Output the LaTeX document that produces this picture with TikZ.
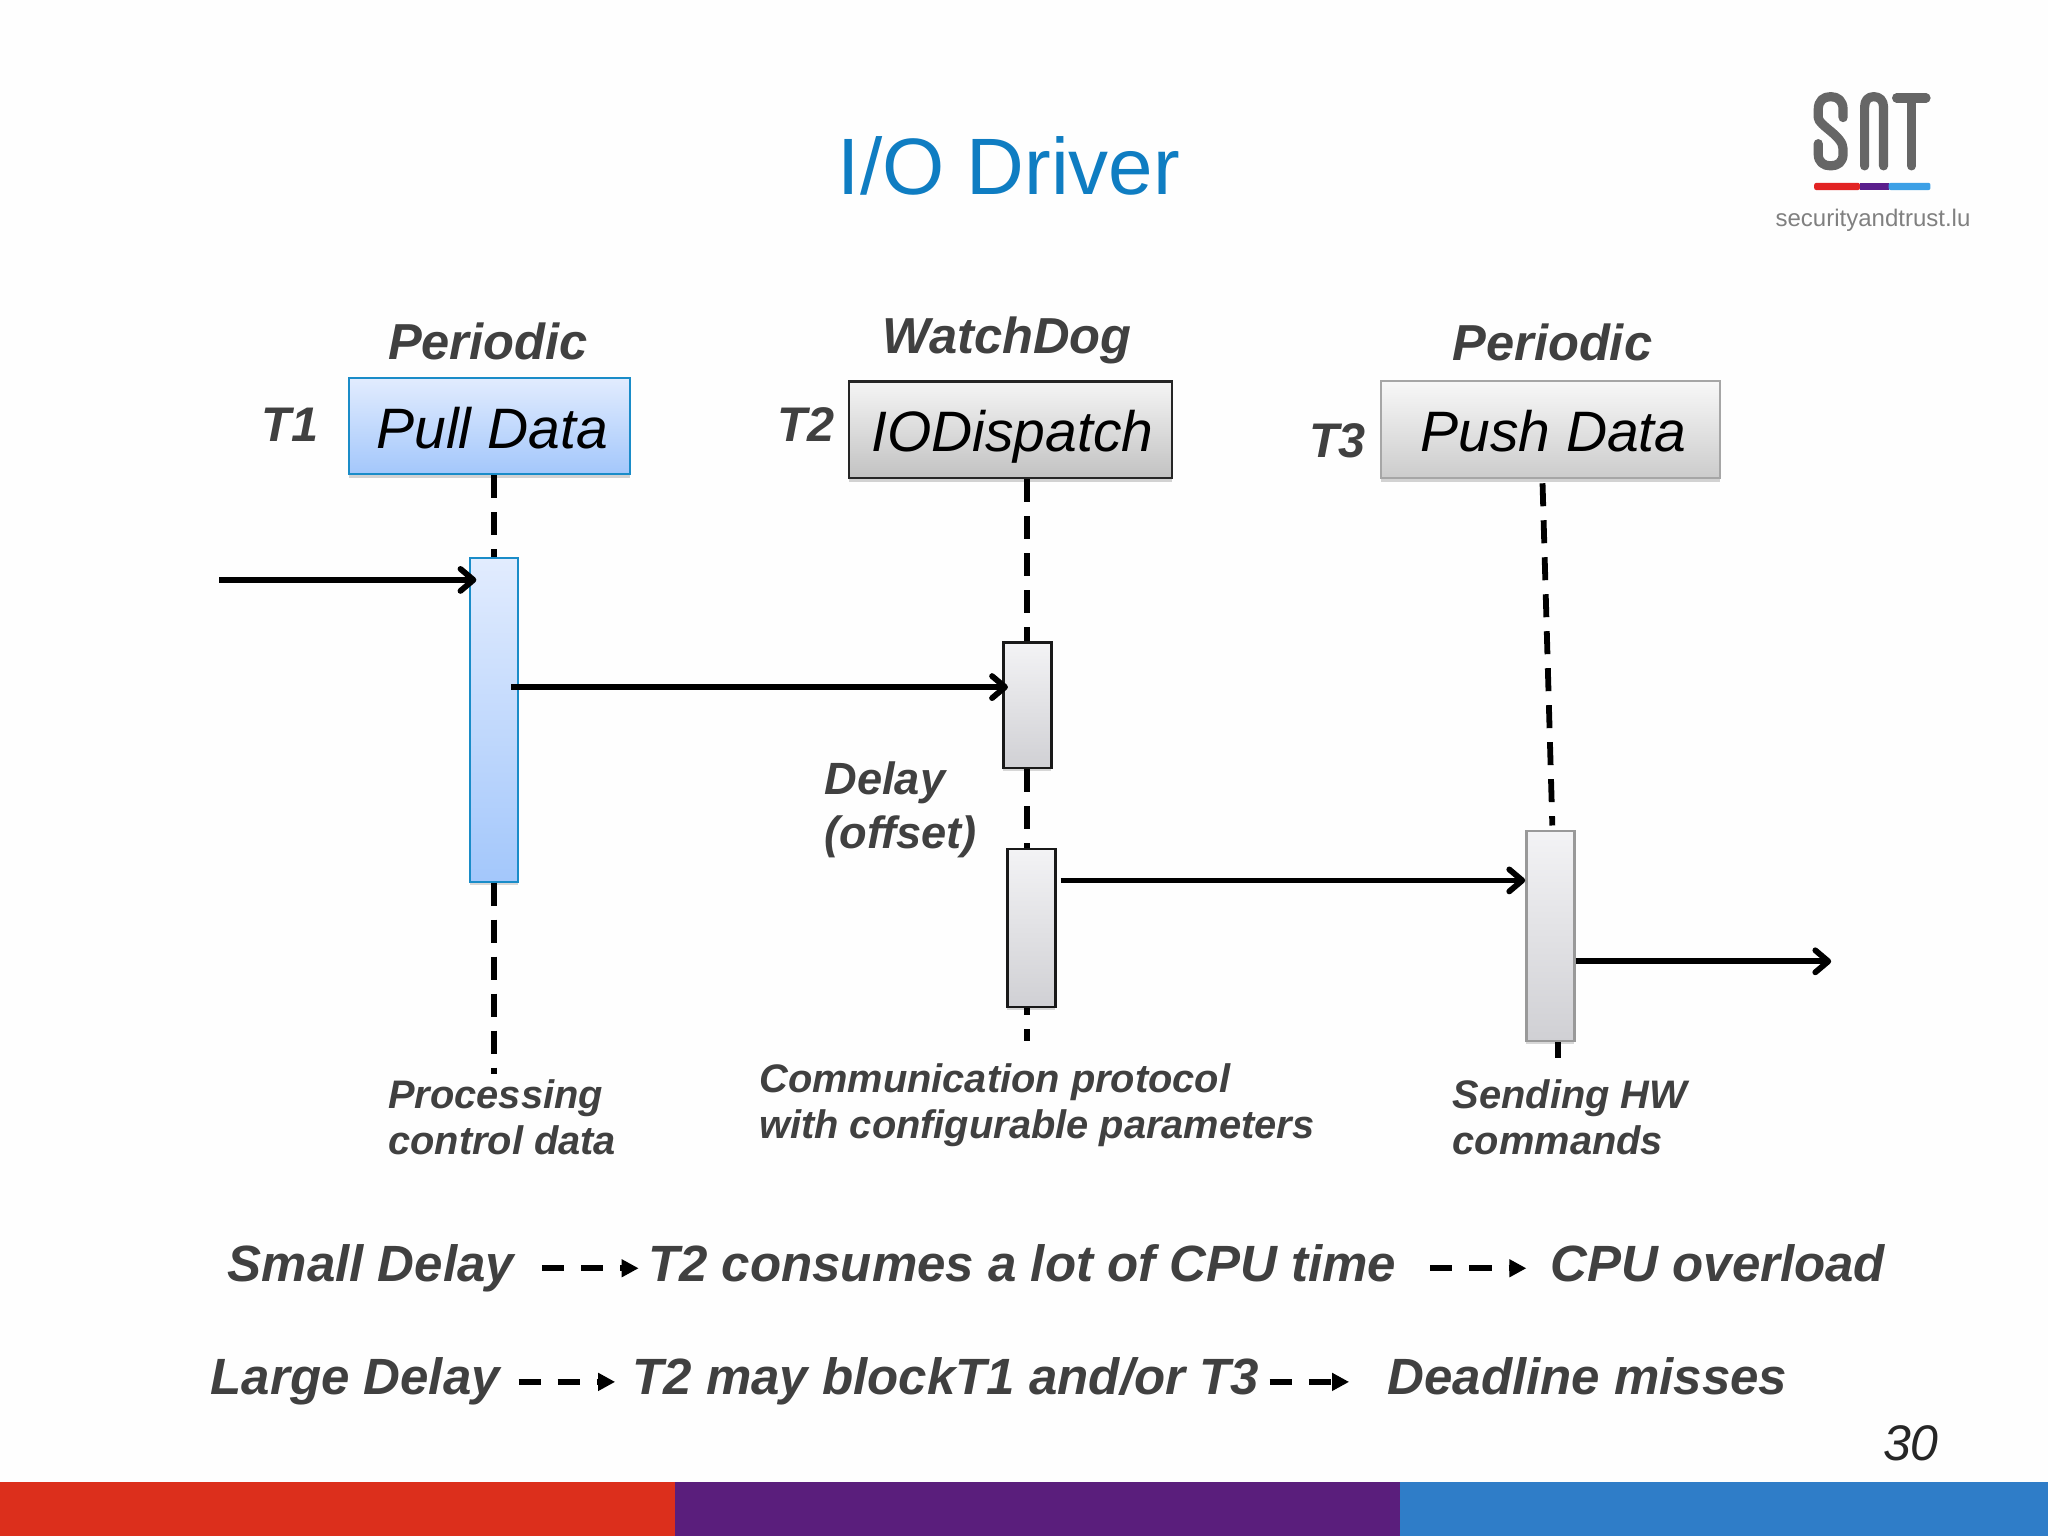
\documentclass[tikz,border=0pt]{standalone}
\usepackage{fontspec}
\setmainfont{Liberation Sans}
\usetikzlibrary{arrows.meta,shadows,calc}
\definecolor{txt}{HTML}{404040}
\definecolor{titleblue}{HTML}{0F7DC2}
\definecolor{logogray}{HTML}{666666}
\definecolor{topblue}{HTML}{E2ECFE}
\definecolor{botblue}{HTML}{A3C7FB}
\definecolor{bluedge}{HTML}{1A8CC8}
\definecolor{acttop}{HTML}{F3F3F5}
\definecolor{actbot}{HTML}{D0D0D4}
\tikzset{
  x=0.65306pt,y=-0.65306pt,
  head/.style={font=\fontsize{25.3}{30}\selectfont\bfseries\itshape,text=txt,inner sep=0pt},
  tag/.style={font=\fontsize{24.3}{30}\selectfont\bfseries\itshape,text=txt,inner sep=0pt},
  note/.style={font=\fontsize{19.9}{23}\selectfont\bfseries\itshape,text=txt,inner sep=0pt,align=left},
  line/.style={font=\fontsize{25.5}{30}\selectfont\bfseries\itshape,text=txt,inner sep=0pt},
  task/.style={font=\fontsize{28.5}{32}\selectfont\itshape,text=black,inner sep=0pt,text height=22.2pt,text depth=0pt,drop shadow={shadow xshift=0pt,shadow yshift=-2pt,opacity=.35}},
  blue box/.style={top color=topblue,bottom color=botblue,draw=bluedge,line width=1pt},
  dark box/.style={top color=white!96!black,bottom color=white!76!black,draw=black!85,line width=1.1pt},
  pale box/.style={top color=white!97!black,bottom color=white!80!black,draw=black!35,line width=1pt},
  act/.style={minimum width=24pt,inner sep=0pt,drop shadow={shadow xshift=0pt,shadow yshift=-1.5pt,opacity=.3}},
  dark act/.style={top color=acttop,bottom color=actbot,draw=black!90,line width=1.3pt},
  pale act/.style={top color=acttop,bottom color=actbot,draw=black!40,line width=1.2pt},
  life/.style={line width=2.9pt,black,dash pattern=on 11.5pt off 7pt},
  msg/.style={line width=2.9pt,black,-{Straight Barb[length=6.5pt,width=11pt,round]}},
  imply/.style={line width=3pt,black,dash pattern=on 11.1pt off 8.5pt,-{Triangle[length=8.5pt,width=8.5pt,sep=0pt]}},
}
\begin{document}
\begin{tikzpicture}
\useasboundingbox (0,0) rectangle (1568,1176);
\fill[white!99.5!black] (0,0) rectangle (1568,1176);
% bottom band
\fill[fill={rgb,255:red,220;green,47;blue,28}] (0,1135) rectangle (517,1176);
\fill[fill={rgb,255:red,90;green,30;blue,124}] (517,1135) rectangle (1072,1176);
\fill[fill={rgb,255:red,47;green,125;blue,200}] (1072,1135) rectangle (1568,1176);
% title
\node[anchor=base,inner sep=0pt,text=titleblue,font=\fontsize{40}{48}\selectfont] (title) at (772.5,149) {I/O Driver};
% logo
\begin{scope}[xshift=-0.6pt]
\draw[logogray,line width=4.6pt,line cap=round,line join=round]
  (1412,90) -- (1412,84) .. controls (1412,77) and (1408,74) .. (1402.5,74) .. controls (1397,74) and (1393,77) .. (1393,84) -- (1393,90)
  .. controls (1393,96) and (1412,104) .. (1412,114) -- (1412,118) .. controls (1412,124) and (1408,127) .. (1402.5,127) .. controls (1397,127) and (1393,124) .. (1393,118) -- (1393,110);
\draw[logogray,line width=4.6pt,line cap=round,line join=round]
  (1428.5,127) -- (1428.5,82) .. controls (1428.5,77) and (1431,74) .. (1435.5,74) .. controls (1440,74) and (1443,77) .. (1443,82) -- (1443,127);
\draw[logogray,line width=4.6pt,line cap=round,line join=round]
  (1453,75) -- (1475.5,75) (1464.5,75) -- (1464.5,127);
\end{scope}
\fill[fill={rgb,255:red,226;green,35;blue,35},rounded corners=1pt] (1389,140) rectangle (1424,145.5);
\fill[fill={rgb,255:red,90;green,30;blue,140}] (1424,140) rectangle (1446,145.5);
\fill[fill={rgb,255:red,60;green,160;blue,230},rounded corners=1pt] (1446,140) rectangle (1478,145.5);
\node[anchor=base,inner sep=0pt,text=black!50,font=\fontsize{12}{14}\selectfont] (site) at (1434,173.5) {securityandtrust.lu};
% headers
\node[head,anchor=base] (h1) at (373.5,275) {Periodic};
\node[head,anchor=base] (h2) at (771,271) {WatchDog};
\node[head,anchor=base] (h3) at (1188.5,276) {Periodic};
\node[tag,anchor=base west] (t1) at (200,338) {T1};
\node[tag,anchor=base west] (t2) at (595,338) {T2};
\node[tag,anchor=base west] (t3) at (1002,350) {T3};
% task boxes
\node[task,blue box,minimum width=140.4pt,minimum height=48.3pt] (b1) at (374.5,326) {\hspace*{3pt}Pull Data};
\node[task,dark box,minimum width=161.3pt,minimum height=48.3pt] (b2) at (773.5,329) {\hspace*{2pt}IODispatch};
\node[task,pale box,minimum width=169.8pt,minimum height=48.3pt] (b3) at (1187,329) {\hspace*{3pt}Push Data};
% activations
\node[act,blue box,minimum height=162pt] (a1) at (378.5,551) {};
\node[act,dark act,minimum height=62.7pt] (a2) at (786.5,540) {};
\node[act,dark act,minimum height=79pt] (a3) at (789.5,710.5) {};
\node[act,pale act,minimum height=105pt] (a4) at (1187,716.5) {};
% free ends
\coordinate (e1) at (378,822);
\coordinate (e2) at (786,797);
\coordinate (e3s) at (1181,370);
\coordinate (e3e) at (1188.5,632);
\coordinate (e4) at (1193,810);
\coordinate (in) at (168,444);
\coordinate (out) at (1402,736);
% lifelines
\draw[life] (b1.south -| e1) -- (a1.north -| e1);
\draw[life] (a1.south -| e1) -- (e1);
\draw[life] (b2.south -| e2) -- (a2.north -| e2);
\draw[life] (a2.south -| e2) -- (a3.north -| e2);
\draw[life,dash phase=8pt] (a3.south -| e2) -- (e2);
\draw[life] (e3s) -- (e3e);
\draw[life] (a4.south -| e4) -- (e4);
% messages
\draw[msg] (in) -- ([xshift=3.5pt]a1.west |- in);
\draw[msg] ([xshift=-4pt,yshift=16.3pt]a1.east) -- ([xshift=3pt,yshift=16.3pt]a1.east -| a2.west);
\draw[msg] ([xshift=2pt,yshift=23.8pt]a3.east) -- ([yshift=23.8pt]a3.east -| a4.west);
\draw[msg] (a4.east |- out) -- (out);
% labels
\node[note,anchor=north west,font=\fontsize{22.6}{27}\selectfont\bfseries\itshape] (delay) at (631,583) {Delay\\(offset)};
\node[note,anchor=north west] (n1) at (297,826) {Processing\\control data};
\node[note,anchor=north west] (n2) at (581,814) {Communication protocol\\with configurable parameters};
\node[note,anchor=north west] (n3) at (1112,826) {Sending HW\\commands};
% bottom statements
\node[line,anchor=base west] (s1) at (174,981) {Small Delay};
\node[line,anchor=base west] (s2) at (496,981) {T2 consumes a lot of CPU time};
\node[line,anchor=base west] (s3) at (1187,981) {CPU overload};
\node[line,anchor=base west] (l1) at (161,1068) {Large Delay};
\node[line,anchor=base west] (l2) at (484,1068) {T2 may blockT1 and/or T3};
\node[line,anchor=base west] (l3) at (1062,1068) {Deadline misses};
\coordinate (s1e) at (415,971);
\coordinate (s2e) at (1095,971);
\coordinate (l1e) at (397,1058);
\coordinate (l2e) at (972,1058);
\draw[imply] (s1e) -- ([xshift=-4.6pt]s1e -| s2.west);
\draw[imply] (s2e) -- ([xshift=-12pt]s2e -| s3.west);
\draw[imply] (l1e) -- ([xshift=-8.5pt]l1e -| l2.west);
\draw[imply] (l2e) -- ([xshift=-19pt]l2e -| l3.west);
% page number
\node[anchor=base,inner sep=0pt,text=black!85,font=\fontsize{25}{30}\selectfont\itshape] (page) at (1463,1118) {30};
\end{tikzpicture}
\end{document}
